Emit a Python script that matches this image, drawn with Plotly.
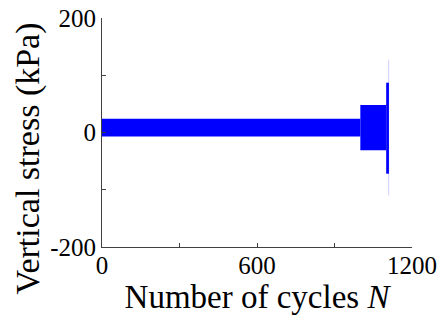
import plotly.graph_objects as go

# Loading stages (cycle ranges and stress envelope, kPa)
stage_start = [0, 1000, 1100]
stage_end = [1000, 1100, 1111]
stage_min = [-7, -31, -72]
stage_max = [24, 48, 87]

# Final spike
spike_cycle = [1110]
spike_min = [-110]
spike_max = [127]

x_ticks = [0, 300, 600, 900, 1200]
x_ticklabels = ["0", "", "600", "", "1200"]
y_ticks = [-200, -100, 0, 100, 200]
y_ticklabels = ["-200", "", "0", "", "200"]

font_family = "Liberation Serif, Times New Roman, serif"

fig = go.Figure()
fig.add_trace(go.Bar(
    x=stage_start,
    y=[hi - lo for hi, lo in zip(stage_max, stage_min)],
    base=stage_min,
    width=[e - s for s, e in zip(stage_start, stage_end)],
    offset=0,
    marker=dict(color="#0000FF", line=dict(width=0)),
    showlegend=False,
))
fig.add_trace(go.Bar(
    x=spike_cycle,
    y=[hi - lo for hi, lo in zip(spike_max, spike_min)],
    base=spike_min,
    width=[3],
    offset=-1.5,
    marker=dict(color="rgba(80,80,255,0.35)", line=dict(width=0)),
    showlegend=False,
))

fig.update_layout(
    width=444, height=320,
    margin=dict(l=102, r=32, t=18, b=73, autoexpand=False),
    paper_bgcolor="white", plot_bgcolor="white",
    barmode="overlay",
    font=dict(family=font_family, size=25, color="black"),
    xaxis=dict(
        range=[0, 1200], tickvals=x_ticks, ticktext=x_ticklabels,
        ticks="inside", ticklen=4, tickcolor="#404040",
        showline=True, linecolor="#404040", linewidth=1,
        showgrid=False, zeroline=False, automargin=False,
        ticklabeloverflow="allow", ticklabelstandoff=-4,
        title=dict(text="Number of cycles <i>N</i>", standoff=0, font=dict(size=33)),
        tickfont=dict(size=25),
    ),
    yaxis=dict(
        range=[-200, 200], tickvals=y_ticks, ticktext=y_ticklabels,
        ticks="inside", ticklen=4, tickcolor="#404040",
        showline=True, linecolor="#404040", linewidth=1,
        showgrid=False, zeroline=False, automargin=False,
        ticklabeloverflow="allow",
        tickfont=dict(size=25),
    ),
    annotations=[dict(
        text="Vertical stress (kPa)", textangle=-90,
        xref="paper", yref="paper", x=-0.2387, y=0.387,
        xanchor="center", yanchor="middle", showarrow=False,
        font=dict(size=34),
    )],
)

# Remove the default page margin so the figure sits at the window's corner
fig.write_html(
    "out.html",
    config={"displayModeBar": False},
    post_script="document.body.style.margin='0';",
)
